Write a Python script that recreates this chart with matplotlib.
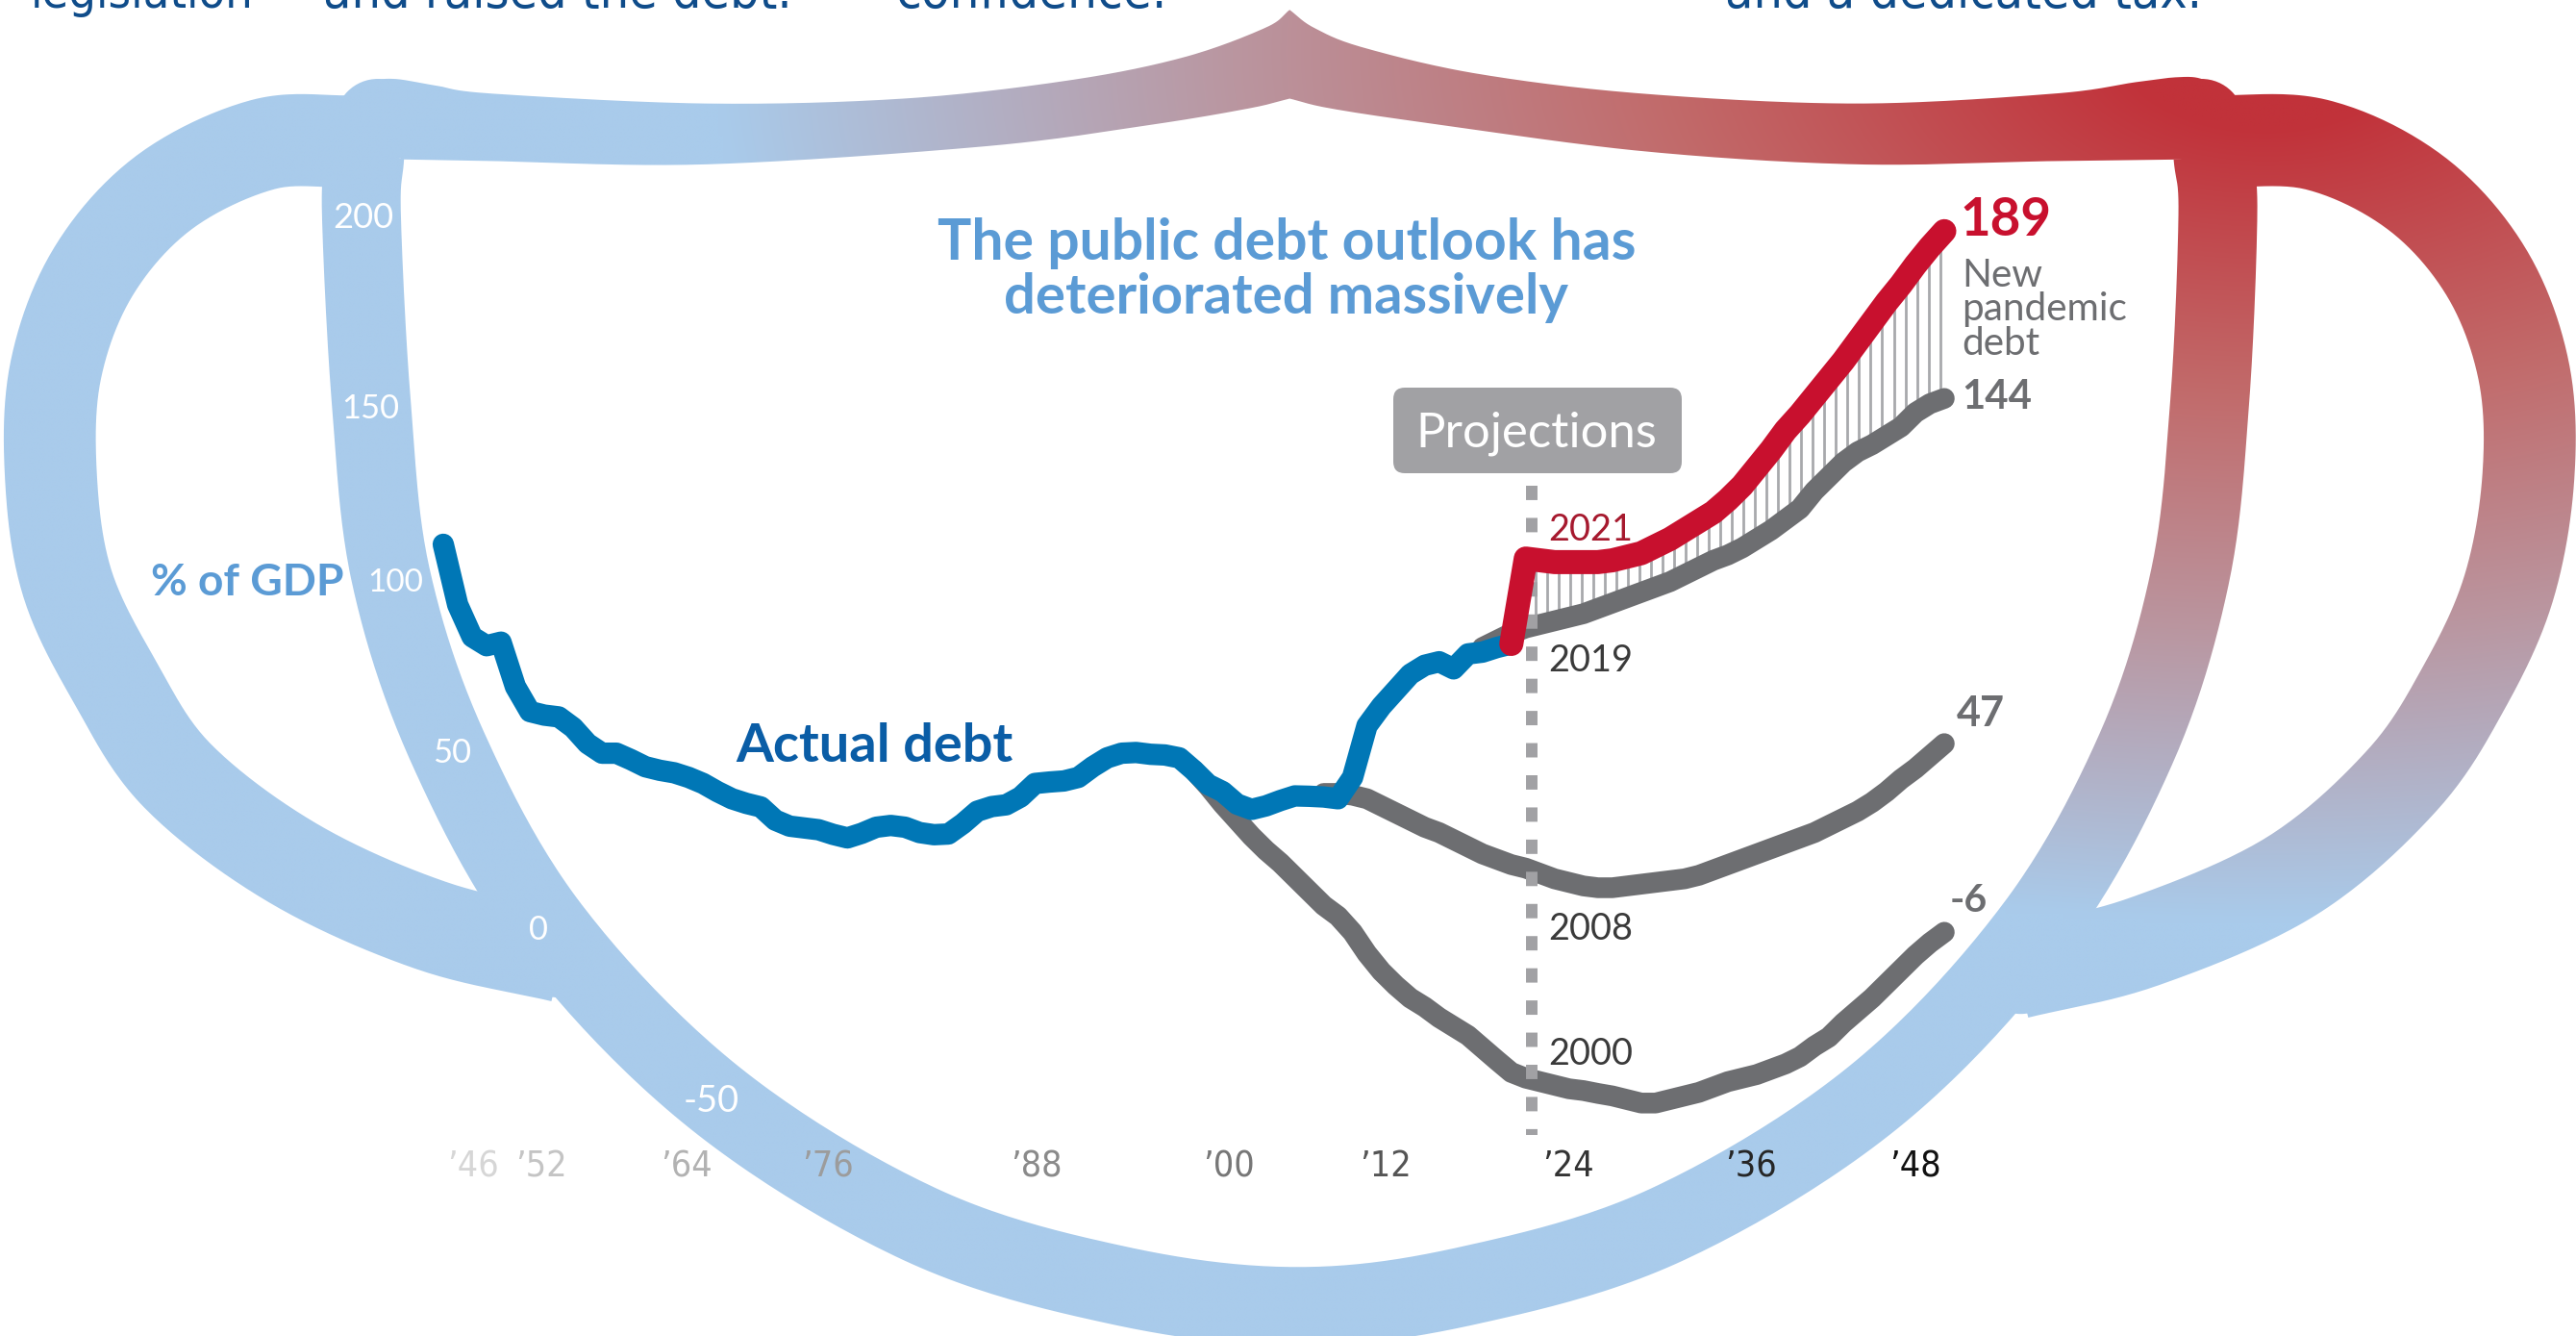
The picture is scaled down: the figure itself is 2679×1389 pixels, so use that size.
import numpy as np
import matplotlib
matplotlib.use("Agg")
import matplotlib.pyplot as plt
from matplotlib.path import Path
from matplotlib.patches import PathPatch, FancyBboxPatch, Circle

# ---------------- data ----------------
actual_years = list(range(1946, 2021))
actual_debt = [103, 86, 77, 74.5, 75.5, 63, 56, 55, 54.5, 51.5,
               47, 44.3, 44.3, 42.5, 40.5, 39.5, 38.8, 37.5, 35.8, 33.5,
               31.5, 30.2, 29.2, 25.5, 23.8, 23.3, 22.8, 21.5, 20.5, 21.8,
               23.5, 24, 23.5, 22, 21.4, 21.6, 24.5, 28, 29.3, 29.8,
               32, 35.8, 36.2, 36.5, 37.5, 40.5, 43, 44.3, 44.5, 44,
               43.8, 43, 39.5, 35.5, 33.5, 30, 28.5, 29.5, 31, 32.3,
               32.2, 32, 31.5, 37.5, 52, 57.5, 62, 66.5, 69, 70,
               68, 72.2, 72.7, 74, 75]

proj2021_years = list(range(2020, 2051))
proj2021 = [75, 99, 98.5, 98, 98, 98, 98, 98.5, 99.5, 100.5,
            102.5, 104.5, 107, 109.5, 112, 115.5, 119.5, 124.5, 129.5, 135,
            139.5, 144.5, 149.5, 154.5, 160, 165.5, 171, 176, 181.5, 186.5, 191]

proj2019_years = list(range(2018, 2051))
proj2019 = [74, 76, 78, 79.5, 80.5, 81.5, 82.5, 83.5, 85, 86.5,
            88, 89.5, 91, 92.5, 94.5, 96.5, 98.5, 100, 102, 104.5,
            107, 110, 113, 118, 122, 126, 129, 131, 133.5, 136,
            140, 142.5, 144]

proj2008_years = list(range(2007, 2051))
proj2008 = [33, 33, 32.5, 31.5, 29.5, 27.5, 25.5, 23.5, 22, 20,
            18, 16, 14.5, 13, 12, 10.5, 9, 8, 7, 6.5,
            6.5, 7, 7.5, 8, 8.5, 9, 10, 11.5, 13, 14.5,
            16, 17.5, 19, 20.5, 22, 24, 26, 28, 30.5, 33.5,
            37, 40, 43.5, 47]

proj2000_years = list(range(1998, 2051))
proj2000 = [39.5, 35, 30, 25.5, 21, 17, 13.5, 9.5, 5.5, 1.5,
            -1.5, -6, -12, -17, -21, -24.5, -27, -30, -32.5, -35,
            -38.5, -42, -45.4, -47, -48, -49, -50, -50.5, -51.3, -52,
            -53, -54, -54, -53, -52, -51, -49.5, -48, -47, -46,
            -44.5, -43, -41, -38, -35.5, -31.5, -28, -24.5, -20.5, -16.5,
            -12.5, -9, -6]

end_labels = ["189", "144", "47", "-6"]
proj_labels = ["2021", "2019", "2008", "2000"]
ytick_labels = ["200", "150", "100", "50", "0", "-50"]
xtick_labels = ["\u201946", "\u201952", "\u201964", "\u201976", "\u201988",
                "\u201900", "\u201912", "\u201924", "\u201936", "\u201948"]

# ---------------- figure ----------------
W, H = 2679, 1389
S = W / 1568.0
fig = plt.figure(figsize=(W / 100, H / 100), dpi=100)
fig.patch.set_facecolor("white")
bg = fig.add_axes([0, 0, 1, 1])
bg.set_xlim(0, W)
bg.set_ylim(H, 0)
bg.axis("off")

FONT = ["Lato", "DejaVu Sans"]
NARROW = ["DejaVu Sans"]


def catmull(pts, n=24):
    pts = np.asarray(pts, float)
    P = np.vstack([2 * pts[0] - pts[1], pts, 2 * pts[-1] - pts[-2]])
    out = []
    t = np.linspace(0, 1, n, endpoint=False)[:, None]
    for i in range(1, len(P) - 2):
        p0, p1, p2, p3 = P[i - 1], P[i], P[i + 1], P[i + 2]
        out.append(0.5 * ((2 * p1) + (-p0 + p2) * t + (2 * p0 - 5 * p1 + 4 * p2 - p3) * t ** 2
                          + (-p0 + 3 * p1 - 3 * p2 + p3) * t ** 3))
    out.append(pts[-1][None])
    return np.vstack(out)


def band(pts, hw):
    P = catmull(pts) * S
    d = np.gradient(P, axis=0)
    d /= np.linalg.norm(d, axis=1)[:, None]
    nrm = np.stack([-d[:, 1], d[:, 0]], 1)
    h = hw * S
    return np.vstack([P + nrm * h, (P - nrm * h)[::-1]])


# gradient field (red at upper right, light blue elsewhere)
gx = np.linspace(0, W, 540)
gy = np.linspace(0, H, 280)
XX, YY = np.meshgrid(gx / S, gy / S)
T = np.sqrt(((XX - 1380) / 1050) ** 2 + ((YY - 30) / 590) ** 2)
stops_t = [0.0, 0.08, 0.35, 0.6, 0.9, 5.0]
stops_c = np.array([(193, 50, 58), (193, 50, 58), (194, 106, 106), (186, 150, 160),
                    (169, 203, 235), (169, 203, 235)]) / 255.0
RGB = np.stack([np.interp(T, stops_t, stops_c[:, k]) for k in range(3)], -1)


def grad_fill(poly=None, circle=None):
    im = bg.imshow(RGB, extent=(0, W, H, 0), interpolation="bilinear", aspect="auto", zorder=1)
    if circle is not None:
        patch = Circle((circle[0] * S, circle[1] * S), circle[2] * S, transform=bg.transData)
    else:
        patch = PathPatch(Path(poly), transform=bg.transData)
    im.set_clip_path(patch)


# mask geometry (layout, in units of the 1568-wide preview)
face_band = [(222, 95), (220, 131), (226, 245), (238, 351), (273, 456), (335, 565),
             (435, 668), (560, 745), (680, 782), (790, 795), (895, 782), (1015, 745),
             (1140, 668), (1238, 565), (1300, 456), (1333, 351), (1345, 245), (1350, 131),
             (1347, 95)]
left_loop = [(215, 86), (160, 88), (100, 117), (57, 165), (34, 225), (31, 290), (41, 355),
             (70, 415), (108, 472), (178, 525), (262, 563), (342, 582)]
right_loop = [(1345, 86), (1410, 88), (1470, 117), (1513, 165), (1536, 225), (1539, 290),
              (1527, 358), (1500, 418), (1462, 475), (1395, 533), (1305, 573), (1228, 592)]
top_up_l = [(205, 78), (212, 58), (225, 50), (240, 48), (265, 52), (300, 57), (430, 63),
            (550, 60), (650, 49), (720, 35), (770, 17), (785, 6)]
top_up_r = [(785, 6), (800, 17), (830, 29), (900, 45), (1000, 57), (1130, 63), (1250, 57),
            (1300, 50), (1325, 47), (1340, 48), (1352, 56), (1362, 78)]
top_lo_r = [(1330, 97), (1250, 98), (1130, 100), (1000, 92), (870, 75), (810, 66), (785, 60)]
top_lo_l = [(785, 60), (760, 66), (700, 76), (600, 89), (430, 100), (300, 98), (245, 97)]

grad_fill(band(left_loop, 28))
grad_fill(band(right_loop, 28))
grad_fill(band(face_band, 24))
top_poly = np.vstack([catmull(top_up_l), catmull(top_up_r), catmull(top_lo_r), catmull(top_lo_l)]) * S
grad_fill(top_poly)
grad_fill(circle=(230, 74, 26))
grad_fill(circle=(1340, 74, 26))
grad_fill(circle=(340, 580, 27))
grad_fill(circle=(1230, 590, 27))

renderer = fig.canvas.get_renderer()


def put(ax, x, y, s, width, **kw):
    t = ax.text(x, y, s, fontsize=30, **kw)
    bb = t.get_window_extent(renderer)
    t.set_fontsize(30 * width / bb.width)
    return t


# top annotation text (cut off by the top edge, as in the original)
top_col = "#0F4C8A"
tk = dict(color=top_col, family=NARROW, fontstretch="condensed", va="baseline", ha="left", zorder=5)
put(bg, 32, 8, "legislation", 232, **tk)
put(bg, 336, 8, "and raised the debt.", 488, **tk)
put(bg, 931, 8, "confidence.", 282, **tk)
put(bg, 1794, 8, "and a dedicated tax.", 496, **tk)

# y labels along the strap (white)
ylab_pos = [(378, 237), (385, 435), (411, 615), (470, 793), (560, 977), (740, 1156)]
ylab_w = [63, 60, 58, 40, 20, 58]
for (x, y), s, w in zip(ylab_pos, ytick_labels, ylab_w):
    put(bg, x, y, s, w, color="white", family=FONT, ha="center", va="baseline", zorder=6)

# x labels, grey ramp
xlab_x = [492, 563, 714, 861, 1078, 1278, 1441, 1631, 1821, 1992]
xlab_col = ["#D6D6D6", "#C4C4C4", "#B2B2B2", "#9C9C9C", "#8A8A8A", "#777777",
            "#555555", "#333333", "#262626", "#111111"]
for x, s, c in zip(xlab_x, xtick_labels, xlab_col):
    bg.text(x, 1223, s, fontsize=27, color=c, family=NARROW, fontstretch="condensed",
            ha="center", va="baseline", zorder=6)

# other texts
put(bg, 157, 619, "% of GDP", 200, color="#5B9BD5", family=FONT, weight="bold", ha="left", va="baseline", zorder=6)
put(bg, 1338, 270, "The public debt outlook has", 726, color="#5B9BD5", family=FONT, weight="bold", ha="center", va="baseline", zorder=6)
put(bg, 1338, 326, "deteriorated massively", 586, color="#5B9BD5", family=FONT, weight="bold", ha="center", va="baseline", zorder=6)
put(bg, 909, 792, "Actual debt", 288, color="#0A5DA6", family=FONT, weight="bold", ha="center", va="baseline", zorder=6)

# projections box
box = FancyBboxPatch((1449, 403), 300, 89, boxstyle="round,pad=0,rounding_size=12",
                     facecolor="#A1A1A4", edgecolor="none", transform=bg.transData, zorder=6)
bg.add_patch(box)
put(bg, 1598, 465, "Projections", 251, color="white", family=FONT, ha="center", va="baseline", zorder=7)

# end labels
put(bg, 2038, 245, end_labels[0], 95, color="#C8102E", family=FONT, weight="bold", ha="left", va="baseline", zorder=6)
put(bg, 2040, 425, end_labels[1], 73, color="#6D6E71", family=FONT, weight="bold", ha="left", va="baseline", zorder=6)
put(bg, 2035, 755, end_labels[2], 50, color="#6D6E71", family=FONT, weight="bold", ha="left", va="baseline", zorder=6)
put(bg, 2028, 948, end_labels[3], 39, color="#6D6E71", family=FONT, weight="bold", ha="left", va="baseline", zorder=6)
tn = put(bg, 2040, 333, "pandemic", 172, color="#6D6E71", family=FONT, ha="left", va="baseline", zorder=6)
bg.text(2040, 298, "New", fontsize=tn.get_fontsize(), color="#6D6E71", family=FONT, ha="left", va="baseline", zorder=6)
bg.text(2040, 369, "debt", fontsize=tn.get_fontsize(), color="#6D6E71", family=FONT, ha="left", va="baseline", zorder=6)

# projection start labels
tp = put(bg, 1610, 562, proj_labels[0], 88, color="#A6192E", family=FONT, ha="left", va="baseline", zorder=6)
fsp = tp.get_fontsize()
for y, s in zip([698, 977, 1107], proj_labels[1:]):
    bg.text(1610, y, s, fontsize=fsp, color="#3A3A3A", family=FONT, ha="left", va="baseline", zorder=6)

# ---------------- data axes ----------------
x0, x1 = 1940, 2056
y0, y1 = -70, 210
px = lambda yr: 461 + 15.01 * (yr - 1946)
py = lambda v: 947 - 3.70 * v
ax = fig.add_axes([px(x0) / W, (H - py(y0)) / H, (px(x1) - px(x0)) / W, (py(y0) - py(y1)) / H])
ax.set_xlim(x0, x1)
ax.set_ylim(y0, y1)
ax.axis("off")

# hatching between the 2019 and 2021 projections
hx = np.arange(2021.7, 2050.0, 0.8)
ax.vlines(hx, np.interp(hx, proj2019_years, proj2019), np.interp(hx, proj2021_years, proj2021),
          color="#A8A9AC", lw=2.0, zorder=2)

lw_g = 15.5
for yrs, vals in [(proj2000_years, proj2000), (proj2008_years, proj2008), (proj2019_years, proj2019)]:
    ax.plot(yrs, vals, color="#6D6E71", lw=lw_g, solid_capstyle="round", solid_joinstyle="round", zorder=3)

ax.plot([2021.4, 2021.4], [119.5, -63], color="#A1A1A4", lw=8.6, dashes=(1.25, 1.55), zorder=4)

ax.plot(actual_years, actual_debt, color="#0077B6", lw=16, solid_capstyle="round", solid_joinstyle="round", zorder=5)
ax.plot(proj2021_years, proj2021, color="#C8102E", lw=18, solid_capstyle="round", solid_joinstyle="round", zorder=6)

fig.savefig("out.png", dpi=100, facecolor="white")
